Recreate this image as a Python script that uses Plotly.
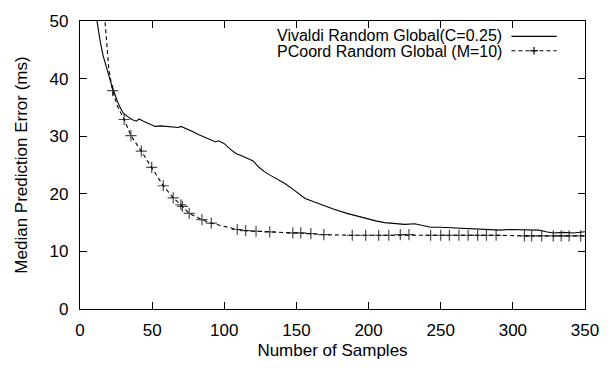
import plotly.graph_objects as go

# ---- data ----
viv_x = [10.5, 12, 14, 16, 18, 20, 22, 24, 26, 28, 30, 33, 36, 39, 41, 44, 48, 52, 56, 60,
         65, 68, 70, 74, 78, 82, 86, 90, 94, 96, 100, 104, 108, 112, 116, 120, 124, 128, 132,
         137, 142, 147, 152, 156, 162, 169, 176, 185, 192, 198, 205, 211, 218, 225, 232, 238,
         243, 250, 257, 264, 271, 278, 285, 291, 298, 305, 312, 318, 323, 328, 335, 342, 350]
viv_y = [52, 49.5, 46.5, 44, 42, 40.5, 38.8, 37.3, 36, 34.9, 34.0, 33.4, 32.9, 32.6, 33.0,
         32.6, 32.2, 31.7, 31.8, 31.7, 31.6, 31.5, 31.7, 31.3, 30.8, 30.3, 29.9, 29.4, 29.0,
         29.2, 28.7, 27.8, 27.0, 26.6, 26.2, 25.7, 24.6, 23.8, 23.2, 22.5, 21.8, 20.9, 19.9,
         19.2, 18.6, 17.9, 17.3, 16.6, 16.1, 15.7, 15.3, 15.0, 14.9, 14.7, 14.8, 14.5, 14.2,
         14.2, 14.1, 14.1, 14.0, 13.8, 13.8, 13.7, 13.8, 13.8, 13.7, 13.7, 13.4, 13.2, 13.3,
         13.2, 13.4]

pc_x = [17, 18.5, 20, 22.6, 26, 30.6, 35.3, 42.5, 49.7, 57.7, 64.6, 69.9, 71, 75.7, 84.5,
        91, 100, 109, 114.8, 122, 131.5, 147.5, 153, 160, 169, 188.7, 198, 207, 214, 222,
        228, 243, 250, 256, 262.6, 269, 275.6, 281.7, 288.4, 308, 313, 320, 328, 333.5, 339,
        347, 350]
pc_y = [51, 46, 41.5, 37.9, 35.2, 32.9, 30.1, 27.4, 24.6, 21.4, 19.3, 18.1, 17.8, 16.6,
        15.5, 14.9, 14.3, 13.8, 13.6, 13.5, 13.4, 13.2, 13.2, 13.1, 12.9, 12.8, 12.8, 12.8,
        12.8, 12.9, 12.9, 12.8, 12.8, 12.8, 12.8, 12.8, 12.8, 12.8, 12.8, 12.7, 12.7, 12.7,
        12.7, 12.7, 12.7, 12.7, 12.7]
pc_mark = [0, 0, 0, 1, 0, 1, 1, 1, 1, 1, 1, 1, 1, 1, 1, 1, 0, 1, 1, 1, 1, 1, 1, 1, 1, 1,
           1, 1, 1, 1, 1, 1, 1, 1, 1, 1, 1, 1, 1, 1, 1, 1, 1, 1, 1, 1, 0]

x_ticks = [0, 50, 100, 150, 200, 250, 300, 350]
y_ticks = [0, 10, 20, 30, 40, 50]

names = ["Vivaldi Random Global(C=0.25)", "PCoord Random Global (M=10)"]

FONT = "Liberation Sans, Arial, sans-serif"
FS = 17
LFS = 16

fig = go.Figure()
fig.add_trace(go.Scatter(x=viv_x, y=viv_y, mode="lines",
                         line=dict(color="black", width=1.1), showlegend=False))
fig.add_trace(go.Scatter(x=pc_x, y=pc_y, mode="lines+markers",
                         line=dict(color="black", width=1.1, dash="4px,3px"),
                         marker=dict(symbol="cross-thin", size=[8 * m for m in pc_mark],
                                     line=dict(color="black", width=1.2)),
                         showlegend=False))

# ---- legend (text left of sample, as in the reference) ----
L, R, T, B = 80, 595, 12, 312
def px(xp):
    return (xp - L) / (R - L)
def py(yp):
    return (B - yp) / (B - T)

for nm, yy in zip(names, [27.5, 44]):
    fig.add_annotation(x=px(511), y=py(yy), xref="paper", yref="paper", text=nm,
                       showarrow=False, xanchor="right", yanchor="middle", borderpad=0,
                       font=dict(family=FONT, size=LFS, color="black"))
fig.add_shape(type="line", xref="paper", yref="paper", x0=px(520), x1=px(566),
              y0=py(28), y1=py(28), line=dict(color="black", width=1.1))
fig.add_shape(type="line", xref="paper", yref="paper", x0=px(520), x1=px(566),
              y0=py(43), y1=py(43), line=dict(color="black", width=1.1, dash="4px,3px"))
fig.add_shape(type="line", xref="paper", yref="paper", x0=px(539), x1=px(547),
              y0=py(43), y1=py(43), line=dict(color="black", width=1.2))
fig.add_shape(type="line", xref="paper", yref="paper", x0=px(543), x1=px(543),
              y0=py(39), y1=py(47), line=dict(color="black", width=1.2))

axis_common = dict(showline=True, linecolor="black", linewidth=1.3, mirror="ticks",
                   ticks="inside", ticklen=7, tickwidth=1.2, tickcolor="black",
                   showgrid=False, zeroline=False,
                   tickfont=dict(family=FONT, size=FS, color="black"))

fig.update_xaxes(range=[0, 350], tickvals=x_ticks, ticktext=[str(v) for v in x_ticks],
                 ticklabelstandoff=5,
                 title=dict(text="Number of Samples", font=dict(family=FONT, size=FS, color="black"),
                            standoff=5),
                 **axis_common)
fig.update_yaxes(range=[0, 50], tickvals=y_ticks, ticktext=[str(v) for v in y_ticks],
                 ticklabelstandoff=7,
                 title=dict(text="Median Prediction Error (ms)",
                            font=dict(family=FONT, size=FS, color="black"), standoff=17),
                 **axis_common)

fig.update_layout(width=611, height=368, margin=dict(l=L, r=611 - R, t=T, b=368 - B),
                  plot_bgcolor="white", paper_bgcolor="white",
                  font=dict(family=FONT, size=FS, color="black"))

fig.write_html("out.html")
